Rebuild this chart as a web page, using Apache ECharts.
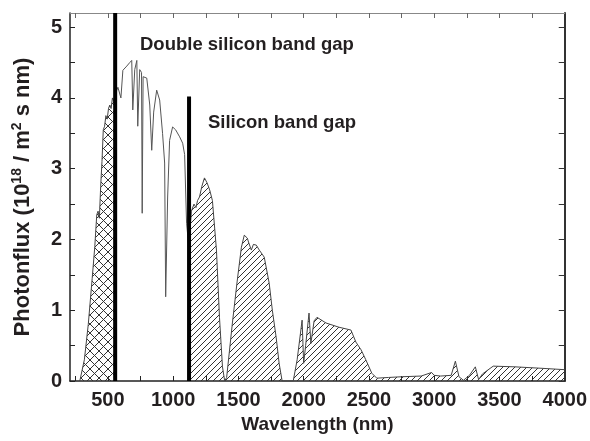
<!DOCTYPE html>
<html><head><meta charset="utf-8">
<script src="https://cdn.jsdelivr.net/npm/echarts@6/dist/echarts.min.js"></script>
<style>html,body{margin:0;padding:0;background:#fff}#c{width:590px;height:441px}</style>
</head><body><div id="c"></div>
<script>
// ---- data (wavelength nm, photon flux 1e18 / m2 s nm) ----
const uvVisWl   = [285, 320, 350, 380, 400, 415, 425, 435, 445, 455, 465, 475, 485, 495, 505, 515, 525, 535, 545, 555];
const uvVisFlux = [0, 0.3, 0.8, 1.45, 1.9, 2.35, 2.4, 2.3, 2.75, 3.1, 3.55, 3.6, 3.75, 3.7, 3.85, 3.9, 3.85, 4.0, 3.95, 4.05];

const visWl   = [555, 577, 600, 615, 645, 668, 683, 691, 706, 722, 729, 744, 758, 763, 770, 798, 821, 836, 851, 874, 897, 919, 935, 943, 958, 973, 996, 1019, 1050, 1073, 1088, 1103, 1120];
const visFlux = [4.05, 4.15, 4.0, 4.39, 4.45, 4.5, 4.53, 3.83, 4.4, 4.53, 3.6, 4.4, 4.36, 2.37, 4.3, 4.28, 3.9, 3.26, 3.8, 4.11, 3.97, 3.5, 3.08, 1.19, 2.6, 3.4, 3.59, 3.55, 3.45, 3.36, 3.2, 2.23, 1.9];

const irWl   = [1120, 1140, 1160, 1175, 1187, 1202, 1220, 1240, 1260, 1280, 1301, 1332, 1355, 1378, 1395, 1410, 1454, 1490, 1523, 1545, 1568, 1580, 1599, 1615, 1637, 1660, 1698, 1736, 1760, 1789, 1812, 1835, 1920, 1950, 1988, 2000, 2015, 2041, 2055, 2080, 2102, 2171, 2270, 2362, 2400, 2440, 2476, 2522, 2560, 2650, 2750, 2900, 2980, 3000, 3050, 3130, 3162, 3190, 3224, 3270, 3315, 3340, 3370, 3452, 3620, 3818, 4000];
const irFlux = [1.9, 2.4, 2.5, 2.45, 2.55, 2.6, 2.75, 2.87, 2.8, 2.7, 2.55, 1.85, 0.9, 0.2, 0, 0.05, 0.82, 1.4, 1.89, 2.06, 2.02, 1.95, 1.85, 1.93, 1.92, 1.85, 1.75, 1.38, 1.0, 0.62, 0.25, 0, 0, 0.3, 0.86, 0.25, 0.5, 0.96, 0.53, 0.85, 0.9, 0.82, 0.76, 0.72, 0.55, 0.44, 0.3, 0.11, 0.04, 0.05, 0.06, 0.07, 0.12, 0.08, 0.07, 0.08, 0.28, 0.06, 0.01, 0.08, 0.2, 0.02, 0.1, 0.21, 0.2, 0.18, 0.16];

const bandGapNames = ['Double silicon band gap', 'Silicon band gap'];
const bandGapWl    = [556, 1122];
const bandGapTop   = [5.2, 4.02];

const xLabelValues = [500, 1000, 1500, 2000, 2500, 3000, 3500, 4000];
const xTickValues  = [250, 500, 750, 1000, 1250, 1500, 1750, 2000, 2250, 2500, 2750, 3000, 3250, 3500, 3750];
const yLabelValues = [0, 1, 2, 3, 4, 5];
const yTickValues  = [0, 0.5, 1, 1.5, 2, 2.5, 3, 3.5, 4, 4.5, 5];

const zip = (a, b) => a.map((v, i) => [v, b[i]]);

function hatch(size, cross) {
  const c = document.createElement('canvas');
  c.width = c.height = size;
  const g = c.getContext('2d');
  g.strokeStyle = '#333'; g.lineWidth = 1;
  g.beginPath();
  g.moveTo(0, size); g.lineTo(size, 0);
  g.moveTo(-size / 2, size / 2); g.lineTo(size / 2, -size / 2);
  g.moveTo(size / 2, size * 1.5); g.lineTo(size * 1.5, size / 2);
  if (cross) {
    g.moveTo(0, 0); g.lineTo(size, size);
    g.moveTo(-size / 2, size / 2); g.lineTo(size / 2, size * 1.5);
    g.moveTo(size / 2, -size / 2); g.lineTo(size * 1.5, size / 2);
  }
  g.stroke();
  return c;
}

const FONT = 'Liberation Sans';
const TXT = '#231f20';
const chart = echarts.init(document.getElementById('c'));

chart.setOption({
  animation: false,
  grid: { left: 70, top: 13, right: 23, bottom: 60 },
  xAxis: [{
    type: 'value', min: 210, max: 4000,
    axisLine: { show: true, onZero: false, lineStyle: { color: '#222', width: 1.5 } },
    axisTick: { inside: true, length: 5, customValues: xTickValues, lineStyle: { color: '#222' } },
    axisLabel: { customValues: xLabelValues, margin: 9, formatter: v => String(v),
      fontFamily: FONT, fontWeight: 'bold', fontSize: 20, color: TXT },
    splitLine: { show: false },
    name: 'Wavelength (nm)', nameLocation: 'middle', nameGap: 28,
    nameTextStyle: { fontFamily: FONT, fontWeight: 'bold', fontSize: 19, color: TXT }
  }, {
    type: 'value', min: 210, max: 4000, position: 'top',
    axisLine: { show: true, onZero: false, lineStyle: { color: '#888', width: 1.2 } },
    axisTick: { inside: true, length: 5, customValues: xTickValues, lineStyle: { color: '#666' } },
    axisLabel: { show: false }, splitLine: { show: false }
  }],
  yAxis: [{
    type: 'value', min: 0, max: 5.2,
    axisLine: { show: true, onZero: false, lineStyle: { color: '#222', width: 1.5 } },
    axisTick: { inside: true, length: 5, customValues: yTickValues, lineStyle: { color: '#222' } },
    axisLabel: { customValues: yLabelValues, margin: 8, fontFamily: FONT, fontWeight: 'bold', fontSize: 20, color: TXT },
    splitLine: { show: false },
    name: 'Photonflux (10{sup|18} / m{sup|2} s nm)', nameLocation: 'middle', nameGap: 34,
    nameTextStyle: {
      fontFamily: FONT, fontWeight: 'bold', fontSize: 22, color: TXT, lineHeight: 26,
      rich: { sup: { fontFamily: FONT, fontWeight: 'bold', fontSize: 14, color: TXT, verticalAlign: 'top', lineHeight: 26 } }
    }
  }, {
    type: 'value', min: 0, max: 5.2, position: 'right',
    axisLine: { show: true, onZero: false, lineStyle: { color: '#333', width: 2 } },
    axisTick: { inside: true, length: 6, customValues: yTickValues, lineStyle: { color: '#333' } },
    axisLabel: { show: false }, splitLine: { show: false }
  }],
  series: [
    { type: 'line', data: zip(uvVisWl, uvVisFlux), showSymbol: false, z: 2,
      lineStyle: { color: '#444', width: 1 },
      areaStyle: { color: { image: hatch(9, true), repeat: 'repeat' }, opacity: 1 } },
    { type: 'line', data: zip(visWl, visFlux), showSymbol: false, z: 2,
      lineStyle: { color: '#555', width: 1 } },
    { type: 'line', data: zip(irWl, irFlux), showSymbol: false, z: 2,
      lineStyle: { color: '#444', width: 1 },
      areaStyle: { color: { image: hatch(6, false), repeat: 'repeat' }, opacity: 1 } },
    ...bandGapWl.map((w, i) => ({
      type: 'line', name: bandGapNames[i], showSymbol: false, z: 5,
      data: [[w, 0], [w, bandGapTop[i]]],
      lineStyle: { color: '#000', width: 4, cap: 'butt' }
    }))
  ],
  graphic: [
    { type: 'text', left: 140, top: 35, style: { text: bandGapNames[0], font: 'bold 18.5px "Liberation Sans"', fill: TXT } },
    { type: 'text', left: 208, top: 113, style: { text: bandGapNames[1], font: 'bold 18.5px "Liberation Sans"', fill: TXT } }
  ]
});
</script>
</body></html>
